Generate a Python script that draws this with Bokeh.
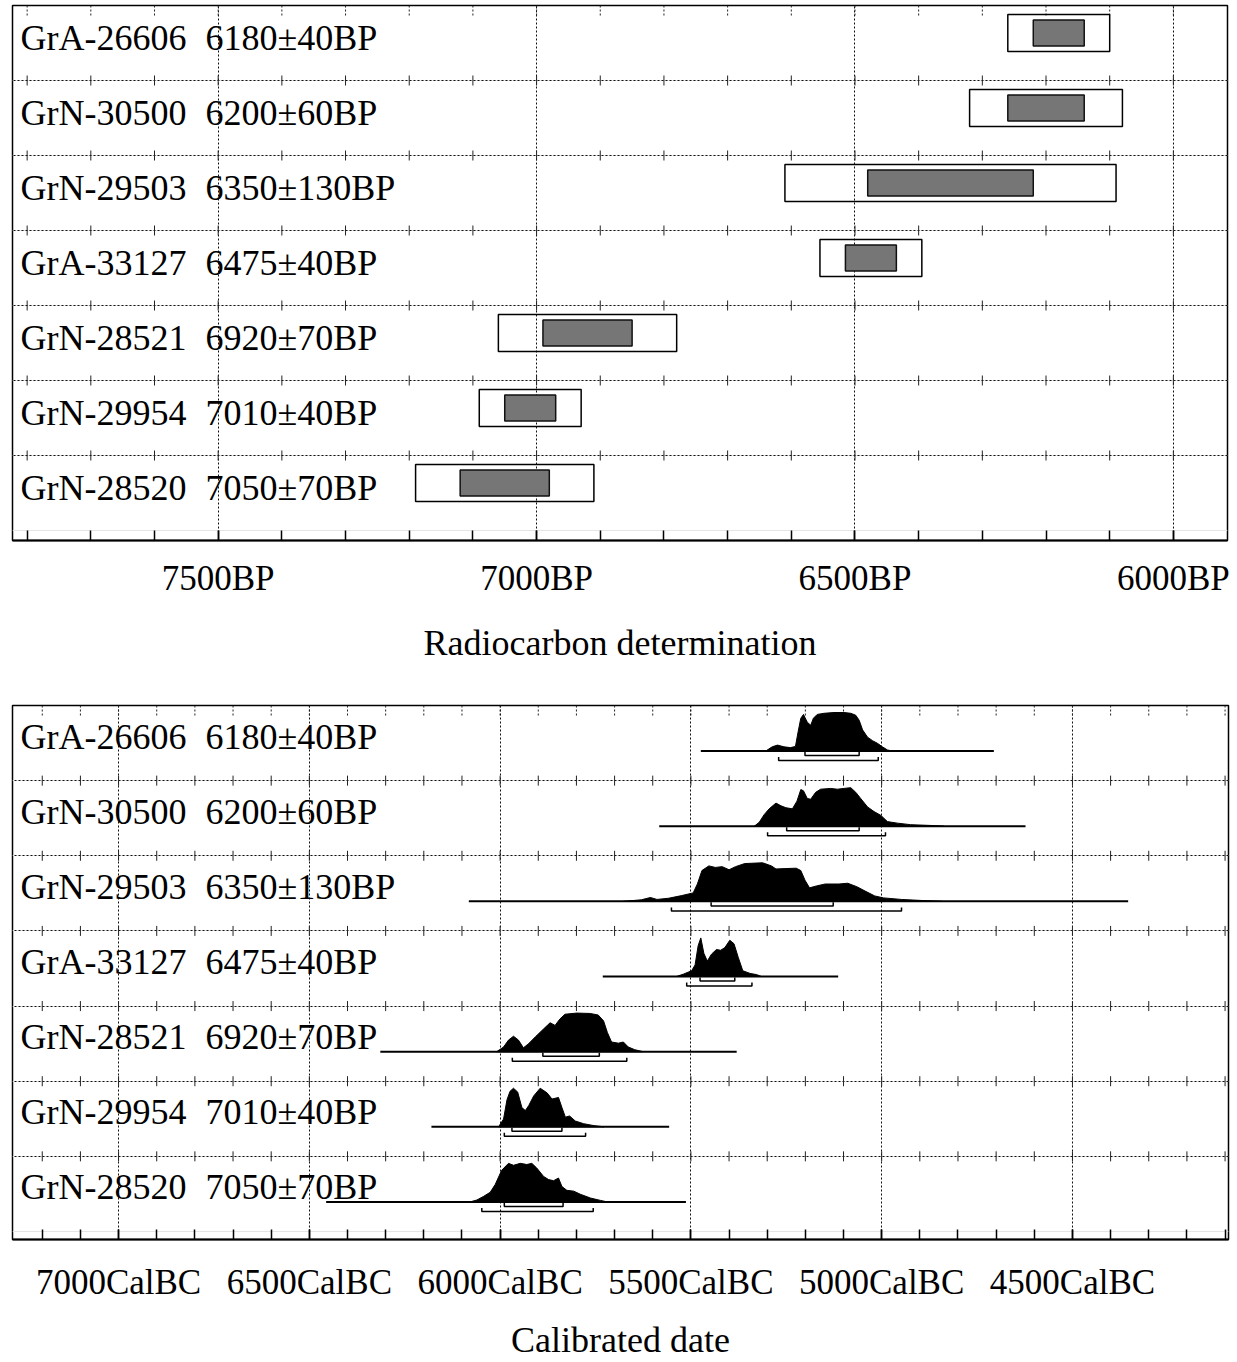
import numpy as np
from bokeh.plotting import figure
from bokeh.layouts import column
from bokeh.models import (Range1d, SingleIntervalTicker, FixedTicker,
                          CustomJSTickFormatter, Grid)
from bokeh.core.properties import value
from bokeh.embed import file_html
from bokeh.resources import INLINE

# ---------------- data ----------------
lab_ids = ["GrA-26606", "GrN-30500", "GrN-29503", "GrA-33127",
           "GrN-28521", "GrN-29954", "GrN-28520"]
bp_age = [6180, 6200, 6350, 6475, 6920, 7010, 7050]
bp_err = [40, 60, 130, 40, 70, 40, 70]

# calibrated results (cal BC)
cal_line_from = [5474, 5583, 6082, 5731, 6314, 6180, 6456]
cal_line_to = [4706, 4623, 4354, 5114, 5380, 5557, 5513]
sig1_from = [5201, 5249, 5447, 5476, 5888, 5969, 5989]
sig1_to = [5059, 5059, 5127, 5385, 5740, 5838, 5835]
sig2_from = [5270, 5299, 5551, 5511, 5968, 5989, 6048]
sig2_to = [5009, 4990, 4948, 5340, 5668, 5776, 5756]

# probability distributions (cal BC, relative probability)
grA26606_bc = [5304, 5287, 5273, 5256, 5239, 5226, 5219, 5212, 5205, 5195, 5186, 5179,
               5169, 5151, 5125, 5099, 5081, 5068, 5059, 5050, 5037, 5024, 5011, 4998, 4985, 4972]
grA26606_p = [0, 0.11, 0.155, 0.11, 0.09, 0.12, 0.5, 0.85, 0.95, 0.75, 0.67, 0.85,
              0.95, 0.98, 1.0, 1.0, 0.98, 0.93, 0.8, 0.55, 0.36, 0.27, 0.2, 0.11, 0.03, 0]

grN30500_bc = [5334, 5321, 5308, 5295, 5277, 5264, 5251, 5234, 5222, 5212, 5205, 5195, 5186,
               5173, 5160, 5134, 5116, 5099, 5081, 5068, 5055, 5037, 5020, 5002, 4985, 4959,
               4924, 4871, 4837]
grN30500_p = [0, 0.1, 0.3, 0.45, 0.6, 0.53, 0.48, 0.45, 0.65, 0.95, 0.92, 0.72, 0.7,
              0.88, 0.96, 0.98, 0.96, 0.98, 1.0, 0.88, 0.72, 0.5, 0.38, 0.28, 0.12, 0.08,
              0.04, 0.02, 0]

grN29503_bc = [5677, 5630, 5606, 5589, 5559, 5524, 5494, 5483, 5471, 5453, 5436, 5418, 5400,
               5383, 5359, 5312, 5289, 5277, 5253, 5224, 5212, 5201, 5189, 5171, 5148, 5112,
               5089, 5065, 5042, 5018, 4995, 4948, 4889, 4842]
grN29503_p = [0, 0.04, 0.1, 0.05, 0.08, 0.15, 0.22, 0.45, 0.8, 0.92, 0.88, 0.9, 0.82,
              0.9, 0.98, 1.0, 0.92, 0.84, 0.85, 0.86, 0.8, 0.55, 0.35, 0.4, 0.45, 0.45,
              0.47, 0.38, 0.26, 0.14, 0.09, 0.05, 0.02, 0]

grA33127_bc = [5538, 5520, 5498, 5489, 5481, 5474, 5466, 5457, 5446, 5433, 5422, 5411,
               5398, 5387, 5376, 5364, 5345, 5328, 5315]
grA33127_p = [0, 0.06, 0.15, 0.3, 0.8, 1.0, 0.6, 0.4, 0.58, 0.7, 0.68, 0.75,
              0.94, 0.85, 0.5, 0.15, 0.08, 0.05, 0]

grN28521_bc = [6009, 5991, 5978, 5965, 5952, 5939, 5926, 5908, 5887, 5869, 5856, 5843,
               5830, 5799, 5764, 5743, 5729, 5719, 5708, 5690, 5677, 5664, 5647, 5625]
grN28521_p = [0, 0.12, 0.3, 0.4, 0.3, 0.1, 0.2, 0.38, 0.58, 0.75, 0.68, 0.85,
              0.97, 1.0, 0.99, 0.95, 0.8, 0.5, 0.25, 0.22, 0.25, 0.12, 0.05, 0]

grN29954_bc = [6004, 5991, 5982, 5974, 5965, 5954, 5943, 5934, 5925, 5912, 5895, 5877,
               5864, 5847, 5838, 5829, 5818, 5803, 5781, 5754, 5728]
grN29954_p = [0, 0.2, 0.7, 0.92, 1.0, 0.9, 0.5, 0.42, 0.55, 0.8, 1.0, 0.88,
              0.72, 0.76, 0.5, 0.25, 0.28, 0.15, 0.08, 0.03, 0]

grN28520_bc = [6079, 6061, 6044, 6026, 6013, 5996, 5978, 5965, 5947, 5930, 5917, 5904,
               5886, 5873, 5860, 5847, 5838, 5825, 5807, 5790, 5763, 5737, 5719]
grN28520_p = [0, 0.05, 0.14, 0.25, 0.45, 0.82, 1.0, 0.95, 1.0, 0.97, 1.0, 0.88,
              0.66, 0.58, 0.55, 0.62, 0.4, 0.3, 0.28, 0.2, 0.1, 0.04, 0]

cal_bc = [grA26606_bc, grN30500_bc, grN29503_bc, grA33127_bc,
          grN28521_bc, grN29954_bc, grN28520_bc]
cal_p = [grA26606_p, grN30500_p, grN29503_p, grA33127_p,
         grN28521_p, grN29954_p, grN28520_p]

# axis extents
bp_range = (7823, 5915)
cal_range = (7278, 4091)

FONT = "Liberation Serif"
N = len(lab_ids)
ROW = 75.0  # px per row


def make_fig(xr, frame_w, frame_h, ybottom, b_left, b_top, b_bottom, suffix,
             title, std_label, std_title):
    p = figure(frame_width=frame_w, frame_height=frame_h,
               x_range=Range1d(*xr), y_range=Range1d(ybottom, N),
               output_backend="svg", toolbar_location=None,
               y_axis_location=None,
               min_border_left=b_left, min_border_right=4,
               min_border_top=b_top, min_border_bottom=b_bottom)
    p.background_fill_color = "white"
    p.border_fill_color = "white"
    p.outline_line_color = "black"
    p.outline_line_width = 1.5
    p.outline_line_alpha = 1.0

    ax = p.xaxis[0]
    tk = SingleIntervalTicker(interval=500, num_minor_ticks=5)
    ax.ticker = tk
    ax.formatter = CustomJSTickFormatter(code="return tick + '%s';" % suffix)
    ax.major_tick_in = 10
    ax.major_tick_out = 0
    ax.minor_tick_in = 10
    ax.minor_tick_out = 0
    ax.major_tick_line_width = 1.5
    ax.minor_tick_line_width = 1.5
    ax.major_tick_line_color = "black"
    ax.minor_tick_line_color = "black"
    ax.axis_line_width = 2
    ax.axis_line_color = "black"
    ax.major_label_text_font = FONT
    ax.major_label_text_font_size = "35px"
    ax.major_label_text_color = "black"
    ax.major_label_standoff = std_label
    ax.axis_label = title
    ax.axis_label_text_font = FONT
    ax.axis_label_text_font_size = "36px"
    ax.axis_label_text_font_style = "normal"
    ax.axis_label_text_color = "black"
    ax.axis_label_standoff = std_title

    p.xgrid.ticker = tk
    p.xgrid.grid_line_color = "#111111"
    p.xgrid.grid_line_dash = "2 2"
    p.xgrid.grid_line_width = 1

    yg = Grid(dimension=1, ticker=FixedTicker(ticks=list(range(1, N))),
              grid_line_color="#111111", grid_line_dash="2 2", grid_line_width=1)
    p.add_layout(yg)

    # small cross ticks every 100 years on each row divider and at the top edge
    lo, hi = min(xr), max(xr)
    marks = np.arange(np.ceil(lo / 100) * 100, hi, 100)
    x0s, y0s, y1s = [], [], []
    for g in range(1, N):
        for m in marks:
            x0s.append(m)
            y0s.append(g - 5 / ROW)
            y1s.append(g + 5 / ROW)
    p.segment(x0=x0s, y0=y0s, x1=x0s, y1=y1s, line_color="#222222", line_width=1)
    p.segment(x0=list(marks), y0=[N] * len(marks), x1=list(marks),
              y1=[N - 10 / ROW] * len(marks), line_color="#222222",
              line_width=1, line_dash="2 2")
    return p


row_top = [N - k for k in range(N)]
date_txt = ["%d\u00b1%dBP" % (a, e) for a, e in zip(bp_age, bp_err)]

# ---------------- top: radiocarbon determinations ----------------
p1 = make_fig(bp_range, 1215, 535, -10 / ROW, 12, 5, 20, "BP",
              "Radiocarbon determination", 18, 22)

box_mid = [t - 27.5 / ROW for t in row_top]
p1.quad(left=[a + 2 * e for a, e in zip(bp_age, bp_err)],
        right=[a - 2 * e for a, e in zip(bp_age, bp_err)],
        bottom=[m - 18.5 / ROW for m in box_mid],
        top=[m + 18.5 / ROW for m in box_mid],
        fill_alpha=0, line_color="black", line_width=1.5)
p1.quad(left=[a + e for a, e in zip(bp_age, bp_err)],
        right=[a - e for a, e in zip(bp_age, bp_err)],
        bottom=[m - 13 / ROW for m in box_mid],
        top=[m + 13 / ROW for m in box_mid],
        fill_color="#767676", line_color="#111111", line_width=1.5)

txt_y1 = [t - 32 / ROW for t in row_top]
p1.text(x=[bp_range[0]] * N, y=txt_y1, text=lab_ids, x_offset=8,
        text_font=value(FONT), text_font_size="36px", text_color="black",
        text_baseline="alphabetic", text_align="left")
p1.text(x=[bp_range[0]] * N, y=txt_y1, text=date_txt, x_offset=193,
        text_font=value(FONT), text_font_size="36px", text_color="black",
        text_baseline="alphabetic", text_align="left")

# ---------------- bottom: calibrated dates ----------------
p2 = make_fig(cal_range, 1216, 534, -8 / ROW, 10, 40, 0, "CalBC",
              "Calibrated date", 23, 15)

base = [t - 45.5 / ROW for t in row_top]
peak = 38.5 / ROW
p2.patches(xs=cal_bc,
           ys=[[b + v * peak for v in pr] for b, pr in zip(base, cal_p)],
           fill_color="black", line_color="black", line_width=1)
p2.segment(x0=cal_line_from, x1=cal_line_to, y0=base, y1=base,
           line_color="black", line_width=2)

s1_line = [t - 50 / ROW for t in row_top]
s1_tick = [t - 46.5 / ROW for t in row_top]
s2_line = [t - 55 / ROW for t in row_top]
s2_tick = [t - 51.5 / ROW for t in row_top]
p2.multi_line(xs=[[a, a, b, b] for a, b in zip(sig1_from, sig1_to)],
              ys=[[u, l, l, u] for u, l in zip(s1_tick, s1_line)],
              line_color="black", line_width=1.5)
p2.multi_line(xs=[[a, a, b, b] for a, b in zip(sig2_from, sig2_to)],
              ys=[[u, l, l, u] for u, l in zip(s2_tick, s2_line)],
              line_color="black", line_width=1.5)

txt_y2 = [t - 31 / ROW for t in row_top]
p2.text(x=[cal_range[0]] * N, y=txt_y2, text=lab_ids, x_offset=8,
        text_font=value(FONT), text_font_size="36px", text_color="black",
        text_baseline="alphabetic", text_align="left")
p2.text(x=[cal_range[0]] * N, y=txt_y2, text=date_txt, x_offset=193,
        text_font=value(FONT), text_font_size="36px", text_color="black",
        text_baseline="alphabetic", text_align="left")

layout = column(p1, p2)
open("out.html", "w").write(file_html(layout, INLINE))
